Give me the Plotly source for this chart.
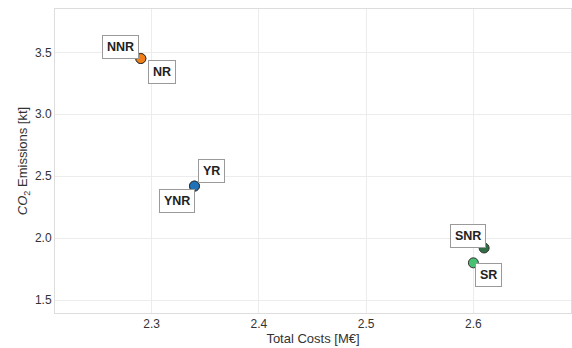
import plotly.graph_objects as go

# Scenario results: total cost vs CO2 emissions
scenarios = ["NNR", "NR", "YR", "YNR", "SNR", "SR"]
total_costs = [2.29, 2.29, 2.34, 2.34, 2.61, 2.60]
co2_emissions = [3.45, 3.45, 2.42, 2.42, 1.92, 1.80]
colors = ["#f07f19", "#f07f19", "#1f72b8", "#1f72b8", "#2f6e45", "#47c072"]
# label offsets (pixels) relative to each point
label_dx = [-20, 21, 17, -17, -16, 15]
label_dy = [-12, 13, -15, 15, -12, 12]

x_ticks = [2.3, 2.4, 2.5, 2.6]
y_ticks = [1.5, 2.0, 2.5, 3.0, 3.5]

fig = go.Figure()
fig.add_trace(go.Scatter(
    x=total_costs, y=co2_emissions, mode="markers",
    marker=dict(size=10, color=colors, line=dict(color="#333333", width=1)),
    hoverinfo="text", text=scenarios, showlegend=False,
))

for name, x, y, dx, dy in zip(scenarios, total_costs, co2_emissions, label_dx, label_dy):
    fig.add_annotation(
        x=x, y=y, text=f"<b>{name}</b>", showarrow=True, arrowcolor="rgba(0,0,0,0)",
        ax=dx, ay=dy, font=dict(family="Liberation Sans, Arial", size=12.5, color="#222222"),
        bgcolor="white", bordercolor="#9a9a9a", borderwidth=1, borderpad=4,
    )

axis_common = dict(
    showgrid=True, gridcolor="#ececec", gridwidth=1,
    showline=True, linecolor="#dddddd", linewidth=1, mirror=True,
    zeroline=False, ticks="", tickfont=dict(size=12, color="#333333"),
)

fig.update_layout(
    width=572, height=348,
    margin=dict(l=55, r=1, t=9, b=35),
    paper_bgcolor="white", plot_bgcolor="white",
    font=dict(family="Liberation Sans, Arial", color="#333333"),
    xaxis=dict(range=[2.21, 2.691], tickvals=x_ticks, tickformat=".1f",
               title=dict(text="Total Costs [M€]", font=dict(size=13), standoff=2),
               **axis_common),
    yaxis=dict(range=[1.395, 3.85], tickvals=y_ticks, tickformat=".1f",
               title=dict(text="<i>CO</i><sub>2</sub> Emissions [kt]", font=dict(size=13), standoff=4),
               **axis_common),
)

fig.write_html("out.html")
